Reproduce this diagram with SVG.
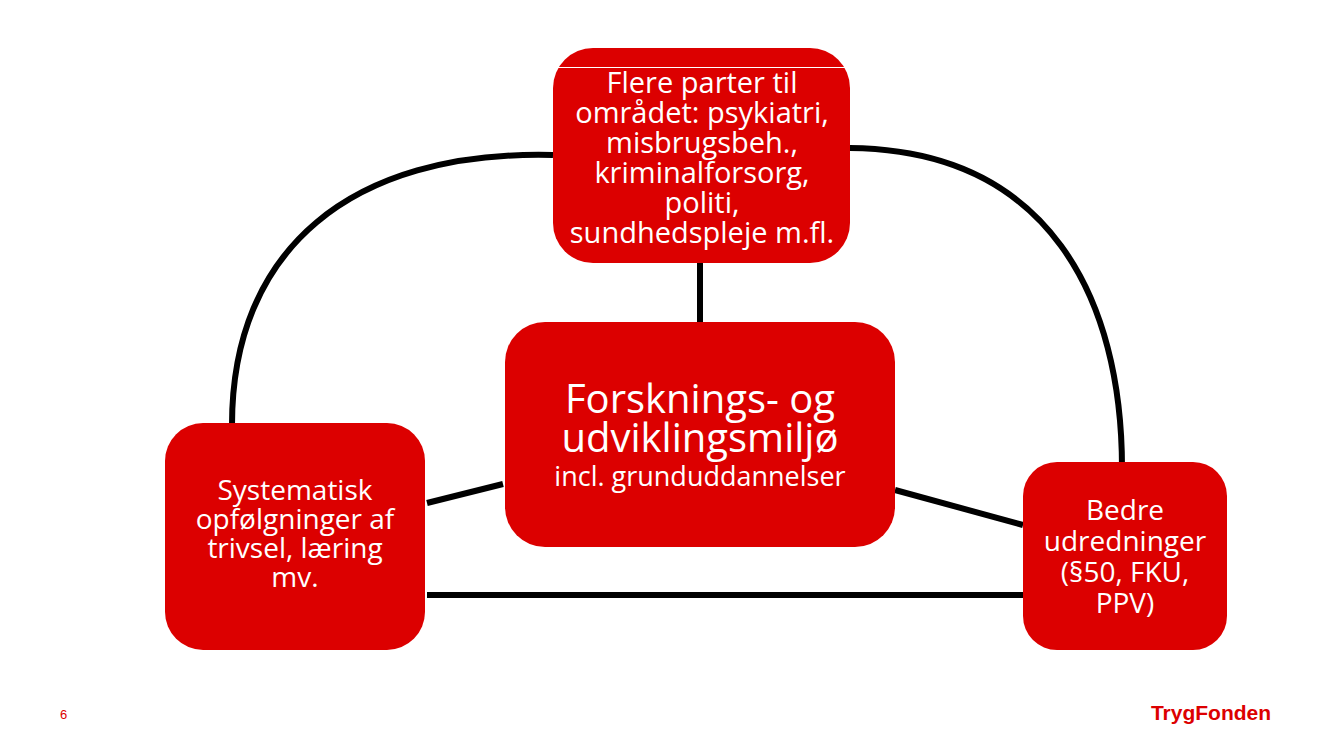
<svg xmlns="http://www.w3.org/2000/svg" width="1333" height="750" viewBox="0 0 1333 750">
<style>
.n{fill:#dc0000}
.t{font-family:"Open Sans","DejaVu Sans",sans-serif;fill:#fff;text-anchor:middle;font-size:28px}
.c{stroke:#000;stroke-width:6;fill:none}
</style>
<rect width="1333" height="750" fill="#fff"/>
<g id="connectors">
<path class="c" d="M553,155 C350,150 232,250 232,425"/>
<path class="c" d="M850,148 C1050,150 1122,300 1122,468"/>
<path class="c" d="M700,263 L700,322"/>
<path class="c" d="M503,484 L427,503"/>
<path class="c" d="M895,490 L1023,525"/>
<path class="c" d="M427,595 L1025,595"/>
</g>
<g id="top">
<rect class="n" x="553" y="48" width="297" height="215" rx="40"/>
<line x1="555" y1="67.5" x2="847" y2="67.5" stroke="#fff" stroke-width="1"/>
<text class="t" y="93" style="font-size:29px"><tspan x="702">Flere parter til</tspan><tspan x="702" dy="30">området: psykiatri,</tspan><tspan x="702" dy="30">misbrugsbeh.,</tspan><tspan x="702" dy="30">kriminalforsorg,</tspan><tspan x="702" dy="30">politi,</tspan><tspan x="702" dy="30">sundhedspleje m.fl.</tspan></text>
</g>
<g id="center">
<rect class="n" x="505" y="322" width="390" height="225" rx="40"/>
<text class="t" style="font-size:40px" x="700" y="413">Forsknings- og</text>
<text class="t" style="font-size:40px" x="700" y="452">udviklingsmiljø</text>
<text class="t" style="font-size:27px" x="700" y="486">incl. grunduddannelser</text>
</g>
<g id="left">
<rect class="n" x="165" y="423" width="260" height="227" rx="38"/>
<text class="t" y="500"><tspan x="295">Systematisk</tspan><tspan x="295" dy="29">opfølgninger af</tspan><tspan x="295" dy="29">trivsel, læring</tspan><tspan x="295" dy="29">mv.</tspan></text>
</g>
<g id="right">
<rect class="n" x="1023" y="462" width="204" height="188" rx="34"/>
<text class="t" y="520"><tspan x="1125">Bedre</tspan><tspan x="1125" dy="31">udredninger</tspan><tspan x="1125" dy="31">(§50, FKU,</tspan><tspan x="1125" dy="31">PPV)</tspan></text>
</g>
<text x="60" y="719" font-family="Liberation Sans,sans-serif" font-size="13" fill="#dc0000">6</text>
<text x="1211" y="720" font-family="Liberation Sans,sans-serif" font-weight="bold" font-size="21" fill="#dc0000" text-anchor="middle">TrygFonden</text>
</svg>
